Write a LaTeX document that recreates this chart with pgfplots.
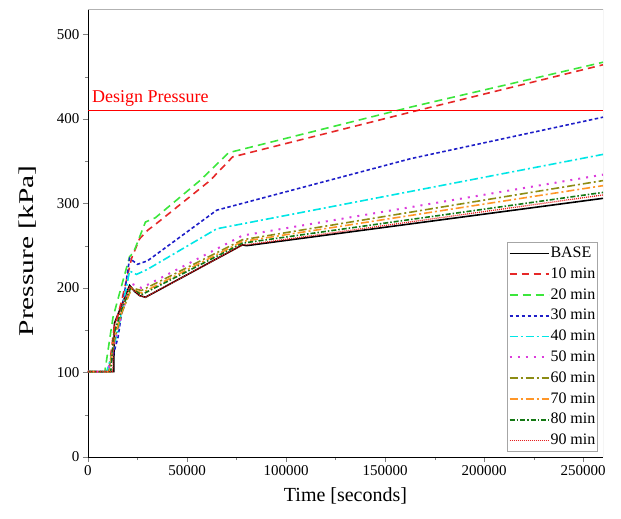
\documentclass[border=0pt]{standalone}
\usepackage{pgfplots}
\pgfplotsset{compat=1.18}
\usepackage{graphicx}
\usepackage{fontspec}
\setmainfont{Liberation Serif}
\usetikzlibrary{calc}

\definecolor{c10}{RGB}{230,40,40}
\definecolor{c20}{RGB}{60,230,60}
\definecolor{c30}{RGB}{30,30,200}
\definecolor{c40}{RGB}{0,230,230}
\definecolor{c50}{RGB}{220,60,220}
\definecolor{c60}{RGB}{140,140,20}
\definecolor{c70}{RGB}{255,150,40}
\definecolor{c80}{RGB}{20,120,20}
\definecolor{c90}{RGB}{230,30,30}

\begin{document}
\begin{tikzpicture}
\begin{axis}[
  scale only axis,
  width=515pt, height=448pt,
  xmin=0, xmax=260000,
  ymin=0, ymax=530,
  axis x line*=bottom, axis y line*=left,
  axis line style={line width=0.9pt},
  xtick={0,50000,...,250000},
  ytick={0,100,...,500},
  minor tick num=1,
  tick align=outside,
  major tick length=5pt, minor tick length=3pt,
  scaled ticks=false,
  /pgf/number format/fixed,
  /pgf/number format/precision=0,
  /pgf/number format/1000 sep={},
  /pgf/number format/assume math mode=true,
  tick label style={font=\fontsize{15}{15}\selectfont},
  xlabel={Time [seconds]},
  ylabel={\scalebox{1.4}[1]{Pressure [kPa]}},
  xlabel style={font=\fontsize{20}{20}\selectfont, yshift=-5pt},
  ylabel style={font=\fontsize{21}{21}\selectfont, at={(ticklabel cs:0.46)}, yshift=14pt},
  every axis plot/.append style={line width=1.6pt},
  legend cell align=left,
  legend style={at={(0.990,0.011)}, anchor=south east, draw=gray!70,
    line width=0.9pt,
    font=\fontsize{16}{16}\selectfont, row sep=0.8pt, inner sep=1pt,
    nodes={inner sep=1pt, text height=13pt, text depth=5pt}},
  legend image code/.code={\draw[#1] (0pt,0pt) -- (39pt,0pt);},
]
\draw[gray!60, line width=0.8pt] (rel axis cs:0,1) -- (rel axis cs:1,1) -- (rel axis cs:1,0);

\addplot[draw=black, solid] coordinates {
  (0,101)(13000,101)(13300,158)(21000,203)(23500,196)(26000,191)(29000,189)
  (78000,251)(80000,250)(260000,306)};
\addlegendentry{BASE}
\addplot[draw=c10, dash pattern=on 7pt off 5pt] coordinates {
  (0,101)(10500,101)(13000,150)(17000,185)(20000,215)(22000,235)(26000,258)
  (30000,268)(35000,277)(61600,327)(73000,355)(163000,408)(260000,464)};
\addlegendentry{10 min}
\addplot[draw=c20, dash pattern=on 8pt off 5pt] coordinates {
  (0,101)(8500,101)(12600,165)(17700,209)(21000,237)(23000,242)(29000,278)
  (34000,283)(56500,327)(71000,360)(163000,414)(260000,467)};
\addlegendentry{20 min}
\addplot[draw=c30, dash pattern=on 3.5pt off 2.5pt] coordinates {
  (0,101)(9500,101)(12100,115)(15200,142)(18500,195)(21000,235)(25000,228)
  (30000,232)(65000,292)(163000,353)(260000,402)};
\addlegendentry{30 min}
\addplot[draw=c40, dash pattern=on 8pt off 3pt on 2pt off 3pt] coordinates {
  (0,101)(9500,101)(12500,125)(16000,160)(21000,220)(24500,216)(30000,222)
  (65000,270)(260000,358)};
\addlegendentry{40 min}
\addplot[draw=c50, line width=2pt, dash pattern=on 2pt off 6pt] coordinates {
  (0,101)(10000,101)(13000,130)(17000,170)(22000,205)(27000,200)(78000,262)
  (260000,334)};
\addlegendentry{50 min}
\addplot[draw=c60, dash pattern=on 8pt off 3pt on 2pt off 3pt] coordinates {
  (0,101)(10500,101)(13000,135)(17000,170)(22000,200)(27000,197)(78000,257)
  (260000,327)};
\addlegendentry{60 min}
\addplot[draw=c70, dash pattern=on 8pt off 3pt on 2pt off 3pt] coordinates {
  (0,101)(11000,101)(13000,140)(17000,172)(22000,199)(27000,194)(78000,255)
  (260000,321)};
\addlegendentry{70 min}
\addplot[draw=c80, dash pattern=on 5pt off 2pt on 1.5pt off 2pt] coordinates {
  (0,101)(11500,101)(13000,145)(17000,175)(21500,200)(27000,192)(78000,253)
  (260000,313)};
\addlegendentry{80 min}
\addplot[draw=c90, line width=1.3pt, dash pattern=on 1pt off 1pt] coordinates {
  (0,101)(12500,101)(13200,155)(21000,202)(26000,191)(29000,189)(78000,251)
  (80000,251)(260000,310)};
\addlegendentry{90 min}

\addplot[draw=red, line width=1.4pt, forget plot] coordinates {(0,410)(260000,410)};
\node[anchor=south west, text=red, font=\fontsize{18}{18}\selectfont, inner sep=1pt]
  at (axis cs:1500,413) {Design Pressure};
\end{axis}
\pgfresetboundingbox
\path ($(current axis.south west)+(-88pt,-62pt)$) rectangle ($(current axis.north east)+(18pt,9pt)$);
\end{tikzpicture}
\end{document}
